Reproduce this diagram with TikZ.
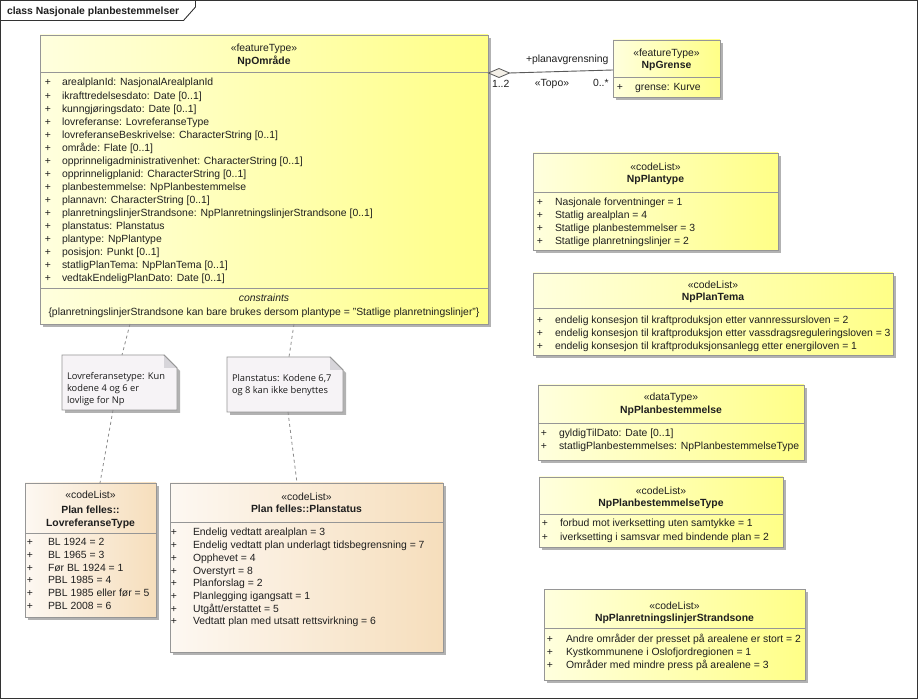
\documentclass[tikz,border=0pt]{standalone}
\usepackage{fontspec}
\setmainfont{Liberation Sans}
\newfontfamily\notefont{Open Sans}
\usetikzlibrary{shapes.geometric,shadows,calc}
\definecolor{yl}{RGB}{255,255,222}
\definecolor{yr}{RGB}{255,255,135}
\definecolor{pl}{RGB}{253,248,242}
\definecolor{pr}{RGB}{246,222,188}
\definecolor{noteC}{RGB}{246,243,246}
\definecolor{foldC}{RGB}{215,213,218}
\definecolor{borderC}{RGB}{150,150,150}
\definecolor{shadowC}{RGB}{178,178,178}
\definecolor{lineC}{RGB}{90,90,90}
\definecolor{diaC}{RGB}{244,240,232}
\newcommand\umlattrs[6]{%
  \foreach \t [count=\i from 0] in {#6} {%
    \node[ctxt] (#1p\i) at (#2,#4+\i*#5) {+};
    \node[txt] (#1a\i) at (#3,#4+\i*#5) {\t};
  }}
\newcommand\drawnote[1]{%
  \fill[shadowC] ($(#1.north west)+(3,3)$) -- ($(#1.north east)+(-10,3)$) -- ($(#1.north east)+(3,16)$) -- ($(#1.south east)+(3,3)$) -- ($(#1.south west)+(3,3)$) -- cycle;
  \draw[borderC, fill=noteC, line width=0.8] (#1.north west) -- ($(#1.north east)+(-13,0)$) -- ($(#1.north east)+(0,13)$) -- (#1.south east) -- (#1.south west) -- cycle;
  \fill[foldC] ($(#1.north east)+(-13,0)$) -- ($(#1.north east)+(0,13)$) -- ($(#1.north east)+(-13,13)$) -- cycle;
  \draw[borderC, line width=0.8] ($(#1.north east)+(-13,0)$) -- ($(#1.north east)+(0,13)$);
}
\begin{document}
\begin{tikzpicture}[x=1pt,y=-1pt,
  every node/.style={inner sep=0pt, outer sep=0pt},
  txt/.style={font=\fontsize{10.4}{12}\selectfont, text=black!88, anchor=base west},
  ctxt/.style={txt, anchor=base},
  nm/.style={ctxt, font=\fontsize{10.4}{12}\selectfont\bfseries},
  ntxt/.style={font=\notefont\fontsize{9.3}{11}\selectfont, text=black!90, anchor=base west},
  box/.style={rectangle, draw=borderC, line width=0.8, anchor=north west,
    drop shadow={shadow xshift=3pt, shadow yshift=-3pt, opacity=1, fill=shadowC}},
  ybox/.style={box, left color=yl, right color=yr},
  pbox/.style={box, left color=pl, right color=pr},
  sepl/.style={draw=borderC, line width=0.8},
  notelink/.style={draw=black!45, line width=0.8, dash pattern=on 3pt off 3pt},
  assoc/.style={draw=lineC, line width=0.9}
]
\useasboundingbox (0,0) rectangle (919,700);
\fill[white] (0,0) rectangle (919,700);
% frame
\node[draw=black!80, line width=0.9, minimum width=917, minimum height=698, anchor=north west] (frame) at (0.5,0.5) {};
\draw[black!80, line width=0.9] (0.5,20.5) -- (183.5,20.5) -- (195.5,7) -- (195.5,0.5);
\node[txt, font=\fontsize{10.4}{12}\selectfont\bfseries] (title) at (7,15) {class Nasjonale planbestemmelser};

% NpOmråde
\node[ybox, minimum width=448, minimum height=289] (omr) at (40,35) {};
\draw[sepl] (40,72) -- (488,72);
\draw[sepl] (40,288) -- (488,288);
\node[ctxt] (omrst) at (264,52) {«featureType»};
\node[nm] (omrnm) at (264,65) {NpOmråde};
\umlattrs{omr}{48}{62}{86}{13.05}{arealplanId: NasjonalArealplanId,ikrafttredelsesdato: Date [0..1],kunngjøringsdato: Date [0..1],lovreferanse: LovreferanseType,lovreferanseBeskrivelse: CharacterString [0..1],område: Flate [0..1],opprinneligadministrativenhet: CharacterString [0..1],opprinneligplanid: CharacterString [0..1],planbestemmelse: NpPlanbestemmelse,plannavn: CharacterString [0..1],planretningslinjerStrandsone: NpPlanretningslinjerStrandsone [0..1],planstatus: Planstatus,plantype: NpPlantype,posisjon: Punkt [0..1],statligPlanTema: NpPlanTema [0..1],vedtakEndeligPlanDato: Date [0..1]}
\node[ctxt, font=\fontsize{10.4}{12}\selectfont\itshape] (omrcs) at (264,302) {constraints};
\node[ctxt] (omrc) at (264,316) {\{planretningslinjerStrandsone kan bare brukes dersom plantype = "Statlige planretningslinjer"\}};

% NpGrense
\node[ybox, minimum width=107, minimum height=57] (grn) at (613,40) {};
\draw[sepl] (613,77) -- (720,77);
\node[ctxt] (grnst) at (666.5,57) {«featureType»};
\node[nm] (grnnm) at (666.5,69) {NpGrense};
\umlattrs{grn}{620}{635}{91}{13}{grense: Kurve}

% association
\node[diamond, draw=lineC, fill=diaC, line width=0.8, minimum width=21, minimum height=9, anchor=west] (dia) at (488.5,73) {};
\draw[assoc] (dia.east) -- ($(grn.north west)+(0,30)$);
\node[txt] (role) at (526,63) {+planavgrensning};
\node[ctxt] (topo) at (552,87) {«Topo»};
\node[txt] (mult1) at (492,88) {1..2};
\node[txt] (mult2) at (593,87) {0..*};

% NpPlantype
\node[ybox, minimum width=245, minimum height=97] (ptype) at (533,153) {};
\draw[sepl] (533,192) -- (778,192);
\node[ctxt] (ptypest) at (655.5,171) {«codeList»};
\node[nm] (ptypenm) at (655.5,183) {NpPlantype};
\umlattrs{ptype}{540}{555}{206}{12.8}{Nasjonale forventninger = 1,Statlig arealplan = 4,Statlige planbestemmelser = 3,Statlige planretningslinjer = 2}

% NpPlanTema
\node[ybox, minimum width=360, minimum height=82] (ptema) at (533,273) {};
\draw[sepl] (533,308) -- (893,308);
\node[ctxt] (ptemast) at (713,289) {«codeList»};
\node[nm] (ptemanm) at (713,301) {NpPlanTema};
\umlattrs{ptema}{540}{555}{324}{13}{endelig konsesjon til kraftproduksjon etter vannressursloven = 2,endelig konsesjon til kraftproduksjon etter vassdragsreguleringsloven = 3,endelig konsesjon til kraftproduksjonsanlegg etter energiloven = 1}

% NpPlanbestemmelse
\node[ybox, minimum width=266, minimum height=75] (pbest) at (538,385) {};
\draw[sepl] (538,423) -- (804,423);
\node[ctxt] (pbestst) at (671,401) {«dataType»};
\node[nm] (pbestnm) at (671,414) {NpPlanbestemmelse};
\umlattrs{pbest}{544}{559}{437}{13}{gyldigTilDato: Date [0..1],statligPlanbestemmelses: NpPlanbestemmelseType}

% NpPlanbestemmelseType
\node[ybox, minimum width=244, minimum height=70] (pbtype) at (539,477) {};
\draw[sepl] (539,514) -- (783,514);
\node[ctxt] (pbtypest) at (661,495) {«codeList»};
\node[nm] (pbtypenm) at (661,507) {NpPlanbestemmelseType};
\umlattrs{pbtype}{545}{560}{527}{13.5}{forbud mot iverksetting uten samtykke = 1,iverksetting i samsvar med bindende plan = 2}

% NpPlanretningslinjerStrandsone
\node[ybox, minimum width=261, minimum height=91] (strand) at (544,589) {};
\draw[sepl] (544,628) -- (805,628);
\node[ctxt] (strandst) at (674.5,609) {«codeList»};
\node[nm] (strandnm) at (674.5,621) {NpPlanretningslinjerStrandsone};
\umlattrs{strand}{550}{566}{642}{13.4}{Andre områder der presset på arealene er stort = 2,Kystkommunene i Oslofjordregionen = 1,Områder med mindre press på arealene = 3}

% LovreferanseType
\node[pbox, minimum width=131, minimum height=134] (lov) at (25,483) {};
\draw[sepl] (25,533) -- (156,533);
\node[ctxt] (lovst) at (90.5,499) {«codeList»};
\node[nm] (lovnm1) at (90.5,514) {Plan felles::};
\node[nm] (lovnm2) at (90.5,527) {LovreferanseType};
\umlattrs{lov}{30}{48}{546}{12.6}{BL 1924 = 2,BL 1965 = 3,Før BL 1924 = 1,PBL 1985 = 4,PBL 1985 eller før = 5,PBL 2008 = 6}

% Planstatus
\node[pbox, minimum width=273, minimum height=169] (pstat) at (170,483) {};
\draw[sepl] (170,522) -- (443,522);
\node[ctxt] (pstatst) at (306.5,501) {«codeList»};
\node[nm] (pstatnm) at (306.5,513) {Plan felles::Planstatus};
\umlattrs{pstat}{174}{193}{536}{12.7}{Endelig vedtatt arealplan = 3,Endelig vedtatt plan underlagt tidsbegrensning = 7,Opphevet = 4,Overstyrt = 8,Planforslag = 2,Planlegging igangsatt = 1,Utgått/erstattet = 5,Vedtatt plan med utsatt rettsvirkning = 6}

% notes
\node[minimum width=115, minimum height=55, anchor=north west] (n1) at (62,355) {};
\node[minimum width=116, minimum height=55, anchor=north west] (n2) at (227,357) {};
\drawnote{n1}
\drawnote{n2}
\node[ntxt] (n1l1) at (67,380) {Lovreferansetype: Kun};
\node[ntxt] (n1l2) at (67,392) {kodene 4 og 6 er};
\node[ntxt] (n1l3) at (67,404) {lovlige for Np};
\node[ntxt] (n2l1) at (232,382) {Planstatus: Kodene 6,7};
\node[ntxt] (n2l2) at (232,394) {og 8 kan ikke benyttes};

% note links
\draw[notelink] ($(omr.south west)+(90,0)$) -- ($(n1.north west)+(60,0)$);
\draw[notelink] ($(n1.south west)+(51,0)$) -- ($(lov.north west)+(75,0)$);
\draw[notelink] ($(omr.south west)+(254,0)$) -- ($(n2.north west)+(62,0)$);
\draw[notelink] ($(n2.south west)+(61,0)$) -- ($(pstat.north west)+(127,0)$);
\end{tikzpicture}
\end{document}
